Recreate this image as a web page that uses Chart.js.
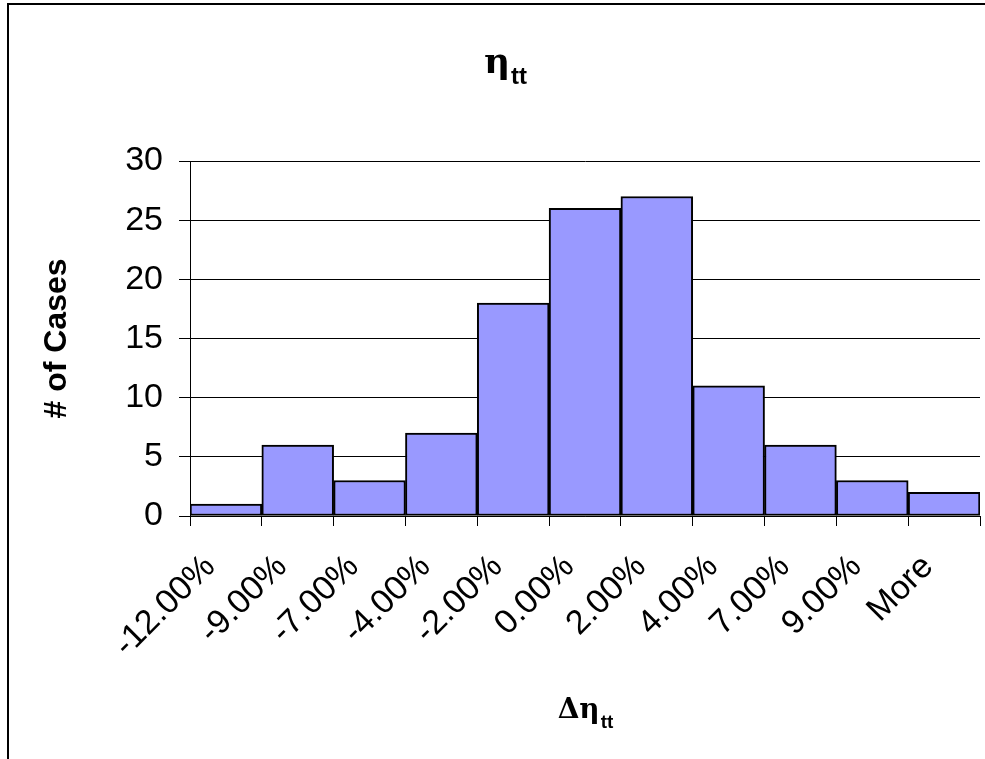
<!DOCTYPE html>
<html>
<head>
<meta charset="utf-8">
<title>Histogram of Δηtt</title>
<script src="https://cdn.jsdelivr.net/npm/chart.js@4.4.1/dist/chart.umd.min.js"></script>
<style>
  html, body { margin: 0; padding: 0; background: #ffffff; }
  #c { display: block; }
</style>
</head>
<body>
<canvas id="c" width="985" height="759"></canvas>
<script>
// Bin upper limits of the efficiency change, plus the overflow bin
const binLabels = ['-12.00%', '-9.00%', '-7.00%', '-4.00%', '-2.00%', '0.00%', '2.00%', '4.00%', '7.00%', '9.00%', 'More'];
// Number of cases falling in each bin
const caseCounts = [1, 6, 3, 7, 18, 26, 27, 11, 6, 3, 2];
// Count axis ticks
const countTicks = [0, 5, 10, 15, 20, 25, 30];

const SANS = '"Liberation Sans", Arial, sans-serif';
const SERIF = '"DejaVu Serif", serif';

// Draws a symbol followed by a bold subscript, centred on cx
function drawSubscripted(ctx, main, sub, cx, baseline, mainFont, subFont, drop) {
  ctx.save();
  ctx.fillStyle = '#000';
  ctx.textBaseline = 'alphabetic';
  ctx.textAlign = 'left';
  ctx.font = mainFont;
  const wMain = ctx.measureText(main).width;
  ctx.font = subFont;
  const wSub = ctx.measureText(sub).width;
  const x0 = cx - (wMain + wSub) / 2;
  ctx.font = mainFont;
  ctx.fillText(main, x0, baseline);
  ctx.font = subFont;
  ctx.fillText(sub, x0 + wMain + 1, baseline + drop);
  ctx.restore();
}

const captions = {
  id: 'captions',
  afterDraw(chart) {
    const ctx = chart.ctx;
    const area = chart.chartArea;
    ctx.save();
    ctx.fillStyle = '#000';
    // outer frame (left and top edges)
    ctx.fillRect(7, 3, 2, 756);
    ctx.fillRect(7, 3, 978, 2);
    ctx.restore();
    // chart title
    drawSubscripted(ctx, 'η', 'tt', 505, 73, '600 36px ' + SERIF, 'bold 24px ' + SANS, 11);
    // category axis title
    drawSubscripted(ctx, 'Δη', 'tt', (area.left + area.right) / 2, 718, '600 28px ' + SERIF, 'bold 19px ' + SANS, 10);
  }
};

new Chart(document.getElementById('c'), {
  type: 'bar',
  data: {
    labels: binLabels,
    datasets: [{
      label: '# of Cases',
      data: caseCounts,
      backgroundColor: '#9999FF',
      borderColor: '#000000',
      borderWidth: 2,
      borderSkipped: false,
      barPercentage: 1.0,
      categoryPercentage: 1.0
    }]
  },
  options: {
    responsive: false,
    animation: false,
    devicePixelRatio: 1,
    layout: { padding: { left: 0, top: 161, right: 5, bottom: 0 } },
    plugins: {
      legend: { display: false },
      tooltip: { enabled: false },
      title: { display: false }
    },
    scales: {
      x: {
        type: 'category',
        offset: true,
        grid: {
          display: true,
          offset: true,
          drawOnChartArea: false,
          drawTicks: true,
          tickLength: 10,
          color: '#000000',
          lineWidth: 1
        },
        border: { display: true, color: '#000000', width: 1 },
        ticks: {
          autoSkip: false,
          minRotation: 45,
          maxRotation: 45,
          padding: 21,
          labelOffset: -16,
          color: '#000000',
          font: { family: SANS, size: 34 }
        },
        afterFit(scale) {
          scale.height = 759 - 516;
          scale.paddingLeft = 0;
          scale.paddingRight = 0;
        }
      },
      y: {
        min: countTicks[0],
        max: countTicks[countTicks.length - 1],
        afterBuildTicks(scale) { scale.ticks = countTicks.map(v => ({ value: v })); },
        grid: {
          color: '#000000',
          lineWidth: 1,
          drawTicks: true,
          tickLength: 11
        },
        border: { display: true, color: '#000000', width: 1 },
        ticks: {
          padding: 16,
          color: '#000000',
          font: { family: SANS, size: 34 }
        },
        title: {
          display: true,
          text: '# of Cases',
          color: '#000000',
          font: { family: SANS, size: 32, weight: 'bold' },
          padding: { top: 38, bottom: 0 }
        },
        afterFit(scale) { scale.width = 190; }
      }
    }
  },
  plugins: [captions]
});
</script>
</body>
</html>
